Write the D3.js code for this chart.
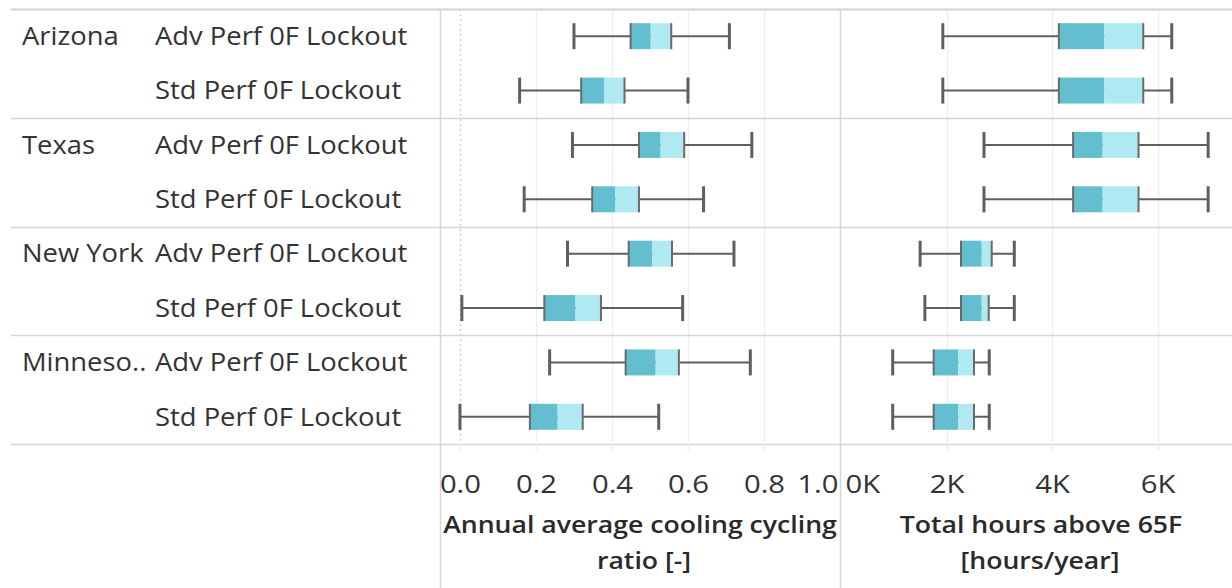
<!DOCTYPE html>
<html>
<head>
<meta charset="utf-8">
<script src="https://cdn.jsdelivr.net/npm/d3@7"></script>
<style>
  html, body { margin: 0; padding: 0; background: #fff; }
  svg { display: block; font-family: "Open Sans", "Noto Sans", sans-serif; }
</style>
</head>
<body>
<svg id="chart" width="1232" height="588"></svg>
<script>
// Row headers
const states = ["Arizona", "Texas", "New York", "Minnesota"];
const stateLabels = ["Arizona", "Texas", "New York", "Minneso.."];
const scenarios = ["Adv Perf 0F Lockout", "Std Perf 0F Lockout"];

// Annual average cooling cycling ratio [-], one entry per row (state x scenario)
const cycLow  = [0.300, 0.157, 0.296, 0.169, 0.283, 0.005, 0.236, 0.000];
const cycQ1   = [0.449, 0.319, 0.471, 0.348, 0.444, 0.222, 0.436, 0.184];
const cycMed  = [0.502, 0.379, 0.528, 0.409, 0.506, 0.304, 0.515, 0.257];
const cycQ3   = [0.556, 0.433, 0.590, 0.471, 0.558, 0.371, 0.576, 0.323];
const cycHigh = [0.709, 0.600, 0.768, 0.641, 0.721, 0.586, 0.764, 0.523];

// Total hours above 65F [hours/year]
const hrsLow  = [1930, 1930, 2710, 2710, 1500, 1590, 980, 980];
const hrsQ1   = [4130, 4130, 4400, 4400, 2275, 2275, 1757, 1757];
const hrsMed  = [4990, 4990, 4960, 4960, 2667, 2667, 2224, 2224];
const hrsQ3   = [5730, 5730, 5640, 5640, 2857, 2800, 2521, 2521];
const hrsHigh = [6270, 6270, 6960, 6960, 3285, 3285, 2810, 2810];

// Axis ticks
const cycTicks = [0, 0.2, 0.4, 0.6, 0.8, 1.0];
const hrsTicks = [0, 2000, 4000, 6000];

const svg = d3.select("#chart");
const W = 1232, H = 588;
const plotTop = 9, plotBottom = 444;
const leftPanel = [440, 840], rightPanel = [840, 1232];

const rows = [];
states.forEach((s, i) => scenarios.forEach((sc, j) => rows.push({ key: s + "|" + sc, state: s, scen: sc, si: i, j })));

const y = d3.scaleBand().domain(rows.map(r => r.key)).range([plotTop, plotBottom]).paddingInner(0).paddingOuter(0);
const xCyc = d3.scaleLinear().domain([-0.0525, 1.0]).range(leftPanel);
const xHrs = d3.scaleLinear().domain([-19, 7412]).range(rightPanel);

const textColor = "#333333";
const lineColor = "#d6d6d6";
const gridColor = "#efefef";
const whiskerColor = "#5f5f5f";
const darkFill = "#63bfd0";
const lightFill = "#afe9f2";

// Widen glyphs slightly so the labels get the broad look of the original typeface
function widen(sel, factor) {
  sel.each(function () {
    const w = this.getComputedTextLength();
    d3.select(this).attr("textLength", w * factor).attr("lengthAdjust", "spacingAndGlyphs");
  });
}

// Gridlines
function grid(scale, ticks, zeroDotted) {
  const g = svg.append("g");
  ticks.forEach(t => {
    const x = Math.round(scale(t)) + 0.5;
    const dotted = t === 0 && zeroDotted;
    g.append("line")
      .attr("x1", x).attr("x2", x).attr("y1", plotTop).attr("y2", plotBottom + 6)
      .attr("stroke", dotted ? "#cfcfcf" : gridColor)
      .attr("stroke-width", 1.5)
      .attr("stroke-dasharray", dotted ? "2,3" : null);
  });
}
grid(xCyc, cycTicks.filter(t => t < 1), true);
grid(xHrs, hrsTicks.filter(t => t > 0), false);

// Pane separators (horizontal)
const sepYs = [plotTop, y(rows[2].key), y(rows[4].key), y(rows[6].key), plotBottom];
sepYs.forEach((yy, i) => {
  svg.append("line")
    .attr("x1", 11).attr("x2", W)
    .attr("y1", Math.round(yy) + 0.5).attr("y2", Math.round(yy) + 0.5)
    .attr("stroke", i === 0 ? "#d2d2d2" : lineColor)
    .attr("stroke-width", i === 0 ? 2 : 1.5);
});
// Vertical separators
[440, 840].forEach(x => {
  svg.append("line")
    .attr("x1", x + 0.5).attr("x2", x + 0.5).attr("y1", plotTop).attr("y2", H)
    .attr("stroke", lineColor).attr("stroke-width", 1.5);
});

// Row header text
const headerG = svg.append("g").attr("fill", textColor).style("font-size", "25px");
rows.forEach(r => {
  const cy = y(r.key) + y.bandwidth() / 2;
  if (r.j === 0) {
    headerG.append("text").attr("x", 22).attr("y", cy).attr("dy", "0.35em").text(stateLabels[r.si]);
  }
  headerG.append("text").attr("x", 155).attr("y", cy).attr("dy", "0.35em").text(r.scen);
});
widen(headerG.selectAll("text"), 1.095);

// Box plots
const boxH = 26;
function boxes(scale, low, q1, med, q3, high) {
  const g = svg.append("g");
  rows.forEach((r, i) => {
    const cy = y(r.key) + y.bandwidth() / 2;
    // whisker line
    g.append("line")
      .attr("x1", scale(low[i])).attr("x2", scale(high[i]))
      .attr("y1", cy).attr("y2", cy)
      .attr("stroke", whiskerColor).attr("stroke-width", 2);
    // caps
    [low[i], high[i]].forEach(v => {
      g.append("line")
        .attr("x1", scale(v)).attr("x2", scale(v))
        .attr("y1", cy - boxH / 2).attr("y2", cy + boxH / 2)
        .attr("stroke", whiskerColor).attr("stroke-width", 3);
    });
    // lower half of box
    g.append("rect")
      .attr("x", scale(q1[i])).attr("width", scale(med[i]) - scale(q1[i]))
      .attr("y", cy - boxH / 2).attr("height", boxH)
      .attr("fill", darkFill);
    // upper half of box
    g.append("rect")
      .attr("x", scale(med[i])).attr("width", scale(q3[i]) - scale(med[i]))
      .attr("y", cy - boxH / 2).attr("height", boxH)
      .attr("fill", lightFill);
    // quartile edges
    [q1[i], q3[i]].forEach(v => {
      g.append("line")
        .attr("x1", scale(v)).attr("x2", scale(v))
        .attr("y1", cy - boxH / 2).attr("y2", cy + boxH / 2)
        .attr("stroke", "#6a6a6a").attr("stroke-width", 2);
    });
  });
}
boxes(xCyc, cycLow, cycQ1, cycMed, cycQ3, cycHigh);
boxes(xHrs, hrsLow, hrsQ1, hrsMed, hrsQ3, hrsHigh);

// Axes
const axCyc = svg.append("g").attr("transform", `translate(0,${plotBottom})`)
  .call(d3.axisBottom(xCyc).tickValues(cycTicks).tickFormat(d3.format(".1f")).tickSize(6).tickPadding(25));
const axHrs = svg.append("g").attr("transform", `translate(0,${plotBottom})`)
  .call(d3.axisBottom(xHrs).tickValues(hrsTicks).tickFormat(d => (d / 1000) + "K").tickSize(6).tickPadding(25));
[axCyc, axHrs].forEach(ax => {
  ax.select(".domain").remove();
  ax.selectAll(".tick line").attr("stroke", gridColor).attr("stroke-width", 1.5);
  ax.selectAll(".tick text")
    .attr("fill", textColor)
    .style("font-family", "\"Open Sans\", sans-serif")
    .style("font-size", "25px");
});
// Edge labels are kept inside their pane
axCyc.selectAll(".tick").filter(d => d === 1.0).select("text").attr("text-anchor", "end").attr("x", -2);
axCyc.selectAll(".tick").filter(d => d === 1.0).select("line").remove();
axHrs.selectAll(".tick").filter(d => d === 0).select("text").attr("text-anchor", "start").attr("x", 4);
axHrs.selectAll(".tick").filter(d => d === 0).select("line").remove();
widen(svg.selectAll(".tick text"), 1.17);

// Axis titles
const titleG = svg.append("g").attr("fill", "#2a2a2a").attr("text-anchor", "middle")
  .style("font-size", "24px").style("font-weight", 600);
titleG.append("text").attr("x", 640).attr("y", 533).text("Annual average cooling cycling");
titleG.append("text").attr("x", 644).attr("y", 569).text("ratio [-]");
titleG.append("text").attr("x", 1041).attr("y", 533).text("Total hours above 65F");
titleG.append("text").attr("x", 1040).attr("y", 569).text("[hours/year]");
widen(titleG.selectAll("text"), 1.11);
</script>
</body>
</html>
